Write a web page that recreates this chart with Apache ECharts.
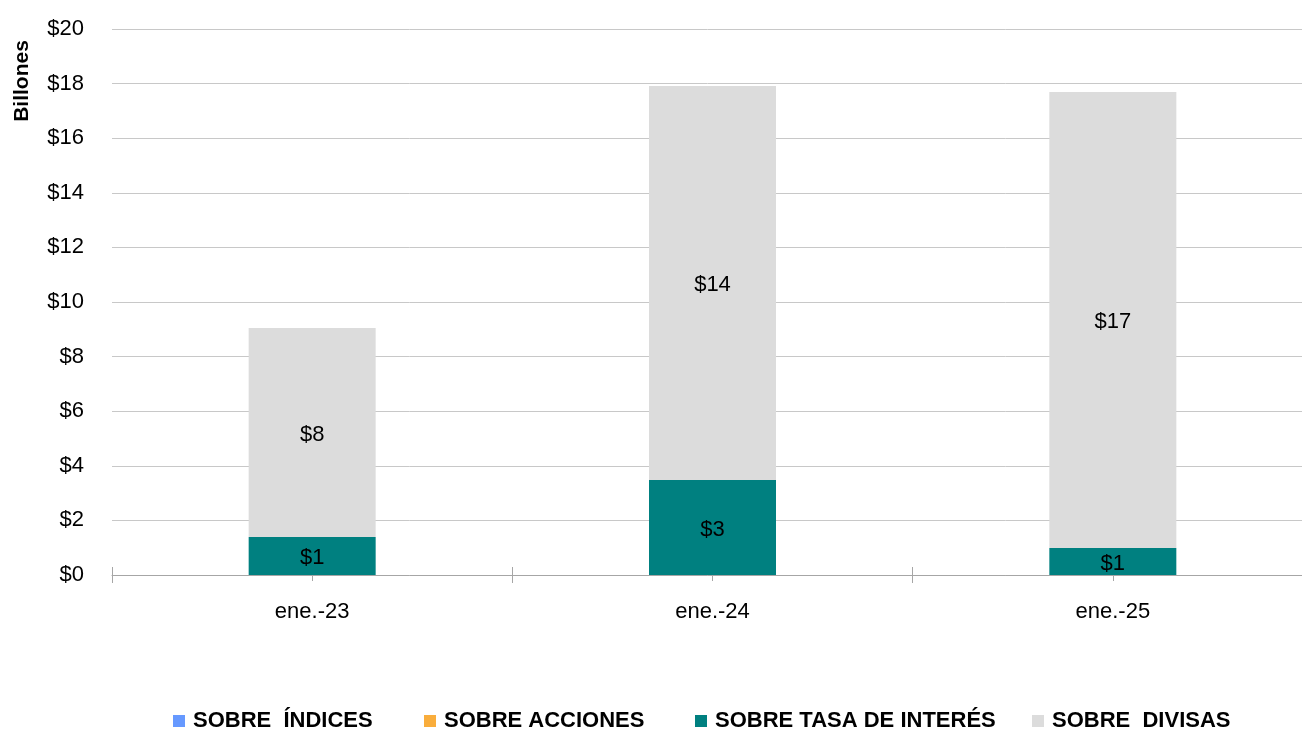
<!DOCTYPE html>
<html>
<head>
<meta charset="utf-8">
<script src="https://cdn.jsdelivr.net/npm/echarts@6/dist/echarts.min.js"></script>
<style>
html,body{margin:0;padding:0;background:#fff;}
#c{width:1302px;height:731px;}
</style>
</head>
<body>
<div id="c"></div>
<script>
const categories = ['ene.-23', 'ene.-24', 'ene.-25'];
const seriesNames = ['SOBRE  ÍNDICES', 'SOBRE ACCIONES', 'SOBRE TASA DE INTERÉS', 'SOBRE  DIVISAS'];
const indices = [0, 0, 0];
const acciones = [0, 0, 0];
const tasaInteres = [1.39, 3.48, 0.99];
const divisas = [7.66, 14.43, 16.70];
const yTicks = [0, 2, 4, 6, 8, 10, 12, 14, 16, 18, 20];

const FONT = "'Liberation Sans', Arial, sans-serif";
const colors = ['#6699ff', '#f9ad3c', '#008080', '#dcdcdc'];
const tickColor = '#a6a6a6';

const chart = echarts.init(document.getElementById('c'), null, {renderer: 'canvas'});

function tickAxis(align, inside, len) {
  return {
    type: 'category', data: categories, gridIndex: 0, position: 'bottom',
    axisLine: {show: false}, axisLabel: {show: false},
    axisTick: {show: true, alignWithLabel: align, inside: inside, length: len, lineStyle: {color: tickColor}},
    splitLine: {show: false}
  };
}

const legendLefts = [173, 424, 695, 1032];

const option = {
  backgroundColor: '#ffffff',
  animation: false,
  textStyle: {fontFamily: FONT},
  grid: {left: 112, top: 29, width: 1201, height: 546, containLabel: false, outerBoundsMode: 'none'},
  graphic: [{
    type: 'text', x: 22, y: 81, rotation: Math.PI / 2,
    style: {text: 'Billones', fontFamily: FONT, fontSize: 21, fontWeight: 'bold', fill: '#000', textAlign: 'center', textVerticalAlign: 'middle'}
  }],
  legend: seriesNames.map((n, i) => ({
    data: [n], left: legendLefts[i], top: 710, itemWidth: 12, itemHeight: 12,
    icon: 'rect', itemGap: 0, padding: 0,
    textStyle: {fontFamily: FONT, fontSize: 22, fontWeight: 'bold', color: '#000', padding: [0, 0, 0, 3]}
  })),
  xAxis: [
    {
      type: 'category', data: categories, gridIndex: 0, position: 'bottom',
      axisLine: {show: true, lineStyle: {color: tickColor, width: 1}},
      axisTick: {show: true, alignWithLabel: false, length: 8, lineStyle: {color: tickColor}},
      axisLabel: {fontFamily: FONT, fontSize: 22, color: '#000', margin: 26}
    },
    tickAxis(false, true, 8),
    tickAxis(true, false, 6),
    tickAxis(true, true, 6)
  ],
  yAxis: {
    type: 'value', min: 0, max: 20, interval: 2,
    axisLine: {show: false}, axisTick: {show: false},
    splitLine: {show: true, lineStyle: {color: '#c8c8c8', width: 1}},
    axisLabel: {
      fontFamily: FONT, fontSize: 22, color: '#000', margin: 28,
      formatter: v => yTicks.includes(v) ? '$' + v : ''
    }
  },
  series: [
    {name: seriesNames[0], type: 'bar', stack: 't', data: indices, barWidth: 127, itemStyle: {color: colors[0]}, label: {show: false}},
    {name: seriesNames[1], type: 'bar', stack: 't', data: acciones, barWidth: 127, itemStyle: {color: colors[1]}, label: {show: false}},
    {name: seriesNames[2], type: 'bar', stack: 't', data: tasaInteres, barWidth: 127, itemStyle: {color: colors[2]},
      label: {show: true, position: 'inside', fontFamily: FONT, fontSize: 22, color: '#000', offset: [0, 2], formatter: p => '$' + Math.round(p.value)}},
    {name: seriesNames[3], type: 'bar', stack: 't', data: divisas, barWidth: 127, itemStyle: {color: colors[3]},
      label: {show: true, position: 'inside', fontFamily: FONT, fontSize: 22, color: '#000', offset: [0, 2], formatter: p => '$' + Math.round(p.value)}}
  ]
};
chart.setOption(option);
</script>
</body>
</html>
